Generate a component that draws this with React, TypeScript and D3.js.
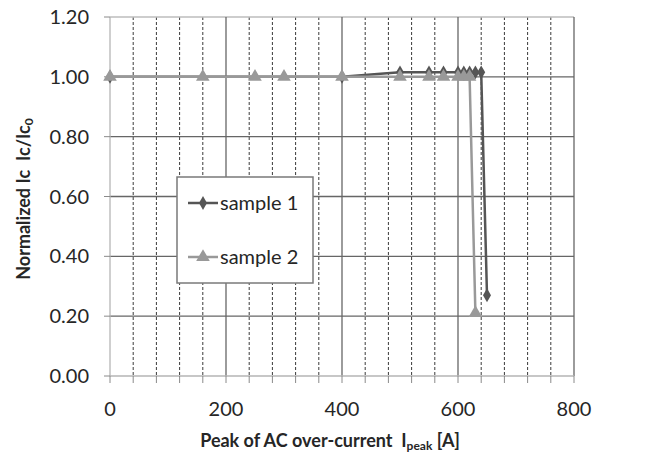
import React, { useEffect, useRef } from "react";
import * as d3 from "d3";

// sample 1 (diamonds)
const s1X = [0, 400, 500, 550, 575, 600, 610, 620, 630, 640, 650];
const s1Y = [1.0, 1.0, 1.015, 1.015, 1.015, 1.015, 1.015, 1.015, 1.015, 1.015, 0.27];
// sample 2 (triangles)
const s2X = [0, 160, 250, 300, 400, 500, 550, 575, 600, 610, 620, 630];
const s2Y = [1.0, 1.0, 1.0, 1.0, 1.0, 1.0, 1.0, 1.0, 1.0, 1.0, 1.0, 0.21];
const seriesNames = ["sample 1", "sample 2"];
const xTicks = [0, 200, 400, 600, 800];
const yTicks = [0, 0.2, 0.4, 0.6, 0.8, 1.0, 1.2];

const W = 663;
const H = 457;
const FONT = "Lato, 'Open Sans', sans-serif";
const TXT = "#262626";

const App = () => {
  const ref = useRef<SVGSVGElement>(null);

  useEffect(() => {
    const svg = d3.select(ref.current);
    svg.selectAll("*").remove();

    const x = d3.scaleLinear().domain([0, 800]).range([110, 574]);
    const y = d3.scaleLinear().domain([0, 1.2]).range([376, 17]);

    svg.append("rect").attr("width", W).attr("height", H).attr("fill", "#fff");

    // minor dashed verticals every 40
    const minor = d3.range(40, 800, 40).filter((v) => v % 200 !== 0);
    svg
      .selectAll(".minor")
      .data(minor)
      .enter()
      .append("line")
      .attr("x1", (d) => x(d))
      .attr("x2", (d) => x(d))
      .attr("y1", y(1.2))
      .attr("y2", y(0))
      .attr("stroke", "#3a3a3a")
      .attr("stroke-width", 1)
      .attr("stroke-dasharray", "3,2");

    // horizontal gridlines
    svg
      .selectAll(".hgrid")
      .data(yTicks.filter((v) => v > 0))
      .enter()
      .append("line")
      .attr("x1", x(0))
      .attr("x2", x(800))
      .attr("y1", (d) => y(d))
      .attr("y2", (d) => y(d))
      .attr("stroke", (d) => (d === 1.2 ? "#bdbdbd" : "#666"))
      .attr("stroke-width", 1.3);

    // major verticals
    svg
      .selectAll(".vgrid")
      .data([200, 400, 600])
      .enter()
      .append("line")
      .attr("x1", (d) => x(d))
      .attr("x2", (d) => x(d))
      .attr("y1", y(1.2))
      .attr("y2", y(0))
      .attr("stroke", "#666")
      .attr("stroke-width", 1.3);

    // right border
    svg
      .append("line")
      .attr("x1", x(800))
      .attr("x2", x(800))
      .attr("y1", y(1.2))
      .attr("y2", y(0))
      .attr("stroke", "#666")
      .attr("stroke-width", 1.3);

    // axes
    svg
      .append("line")
      .attr("x1", x(0))
      .attr("x2", x(800))
      .attr("y1", y(0))
      .attr("y2", y(0))
      .attr("stroke", "#b5b5b5")
      .attr("stroke-width", 1.3);
    svg
      .append("line")
      .attr("x1", x(0))
      .attr("x2", x(0))
      .attr("y1", y(1.2))
      .attr("y2", y(0))
      .attr("stroke", "#b5b5b5")
      .attr("stroke-width", 1.3);

    // ticks
    svg
      .selectAll(".xt")
      .data(d3.range(0, 801, 40))
      .enter()
      .append("line")
      .attr("x1", (d) => x(d))
      .attr("x2", (d) => x(d))
      .attr("y1", y(0))
      .attr("y2", y(0) + 7)
      .attr("stroke", "#8a8a8a");
    svg
      .selectAll(".yt")
      .data(yTicks)
      .enter()
      .append("line")
      .attr("x1", x(0) - 6)
      .attr("x2", x(0))
      .attr("y1", (d) => y(d))
      .attr("y2", (d) => y(d))
      .attr("stroke", "#8a8a8a");

    // tick labels
    svg
      .selectAll(".xl")
      .data(xTicks)
      .enter()
      .append("text")
      .attr("x", (d) => x(d))
      .attr("y", 416)
      .attr("text-anchor", "middle")
      .attr("font-family", FONT)
      .attr("font-size", 20)
      .attr("fill", TXT)
      .text((d) => d);
    svg
      .selectAll(".yl")
      .data(yTicks)
      .enter()
      .append("text")
      .attr("x", 89)
      .attr("y", (d) => y(d) + 7)
      .attr("text-anchor", "end")
      .attr("font-family", FONT)
      .attr("font-size", 20)
      .attr("fill", TXT)
      .text((d) => d3.format(".2f")(d));

    // axis titles
    const xt = svg
      .append("text")
      .attr("x", 330)
      .attr("y", 447)
      .attr("text-anchor", "middle")
      .attr("font-family", FONT)
      .attr("font-size", 18)
      .attr("font-weight", "bold")
      .attr("fill", TXT)
      .attr("xml:space", "preserve");
    xt.append("tspan").text("Peak of AC over-current  I");
    xt.append("tspan").attr("font-size", 12).attr("dy", 3).text("peak");
    xt.append("tspan").attr("dy", -3).text(" [A]");

    const yt = svg
      .append("text")
      .attr("transform", `translate(30, 199) rotate(-90)`)
      .attr("text-anchor", "middle")
      .attr("font-family", FONT)
      .attr("font-size", 18)
      .attr("font-weight", "bold")
      .attr("fill", TXT)
      .attr("xml:space", "preserve");
    yt.append("tspan").text("Normalized Ic  Ic/Ic");
    yt.append("tspan").attr("font-size", 12).attr("dy", 3).text("0");

    const line = d3
      .line<[number, number]>()
      .x((d) => x(d[0]))
      .y((d) => y(d[1]));

    const p1 = s1X.map((v, i) => [v, s1Y[i]] as [number, number]);
    const p2 = s2X.map((v, i) => [v, s2Y[i]] as [number, number]);
    const c1 = "#555555";
    const c2 = "#999999";
    const diamond = d3.symbol().type(d3.symbolDiamond).size(55);
    const tri = d3.symbol().type(d3.symbolTriangle).size(80);

    svg
      .append("path")
      .attr("d", line(p1))
      .attr("fill", "none")
      .attr("stroke", c1)
      .attr("stroke-width", 2.5);
    svg
      .selectAll(".m1")
      .data(p1)
      .enter()
      .append("path")
      .attr("d", diamond)
      .attr("transform", (d) => `translate(${x(d[0])},${y(d[1])})`)
      .attr("fill", c1);

    svg
      .append("path")
      .attr("d", line(p2))
      .attr("fill", "none")
      .attr("stroke", c2)
      .attr("stroke-width", 2.5);
    svg
      .selectAll(".m2")
      .data(p2)
      .enter()
      .append("path")
      .attr("d", tri)
      .attr("transform", (d) => `translate(${x(d[0])},${y(d[1])})`)
      .attr("fill", c2);

    // legend
    const lg = svg.append("g");
    lg.append("rect")
      .attr("x", 177)
      .attr("y", 177)
      .attr("width", 136)
      .attr("height", 106)
      .attr("fill", "#fff")
      .attr("stroke", "#7a7a7a")
      .attr("stroke-width", 1.5);
    [c1, c2].forEach((c, i) => {
      const ly = 203 + i * 54;
      lg.append("line")
        .attr("x1", 188)
        .attr("x2", 218)
        .attr("y1", ly)
        .attr("y2", ly)
        .attr("stroke", c)
        .attr("stroke-width", 2.5);
      lg.append("path")
        .attr("d", i === 0 ? diamond : tri)
        .attr("transform", `translate(203,${ly})`)
        .attr("fill", c);
      lg.append("text")
        .attr("x", 220)
        .attr("y", ly + 7)
        .attr("font-family", FONT)
        .attr("font-size", 20)
        .attr("fill", TXT)
        .text(seriesNames[i]);
    });
  }, []);

  return (
    <svg
      ref={ref}
      width={W}
      height={H}
      style={{ position: "absolute", left: 0, top: 0 }}
    />
  );
};

export default App;
